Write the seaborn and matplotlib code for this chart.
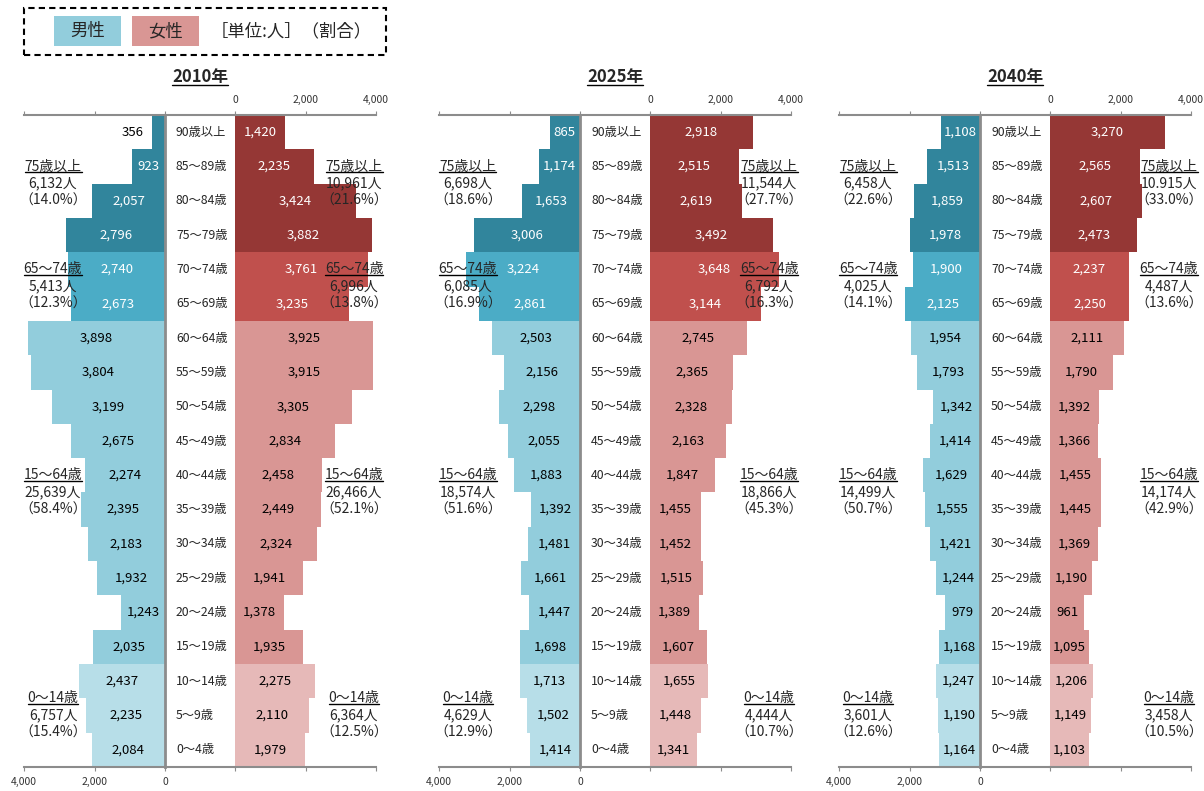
import pandas as pd
import seaborn as sns
import matplotlib.pyplot as plt
from matplotlib.lines import Line2D
from matplotlib.patches import Rectangle

W, H = 1204, 791

# ——— data ———
ages = ['90歳以上', '85～89歳', '80～84歳', '75～79歳', '70～74歳', '65～69歳',
        '60～64歳', '55～59歳', '50～54歳', '45～49歳', '40～44歳', '35～39歳',
        '30～34歳', '25～29歳', '20～24歳', '15～19歳', '10～14歳', '5～9歳', '0～4歳']
years = ['2010年', '2025年', '2040年']

male_2010 = [356, 923, 2057, 2796, 2740, 2673, 3898, 3804, 3199, 2675,
             2274, 2395, 2183, 1932, 1243, 2035, 2437, 2235, 2084]
female_2010 = [1420, 2235, 3424, 3882, 3761, 3235, 3925, 3915, 3305, 2834,
               2458, 2449, 2324, 1941, 1378, 1935, 2275, 2110, 1979]
male_2025 = [865, 1174, 1653, 3006, 3224, 2861, 2503, 2156, 2298, 2055,
             1883, 1392, 1481, 1661, 1447, 1698, 1713, 1502, 1414]
female_2025 = [2918, 2515, 2619, 3492, 3648, 3144, 2745, 2365, 2328, 2163,
               1847, 1455, 1452, 1515, 1389, 1607, 1655, 1448, 1341]
male_2040 = [1108, 1513, 1859, 1978, 1900, 2125, 1954, 1793, 1342, 1414,
             1629, 1555, 1421, 1244, 979, 1168, 1247, 1190, 1164]
female_2040 = [3270, 2565, 2607, 2473, 2237, 2250, 2111, 1790, 1392, 1366,
               1455, 1445, 1369, 1190, 961, 1095, 1206, 1149, 1103]

group_names = ['75歳以上', '65～74歳', '15～64歳', '0～14歳']
group_of_row = [0] * 4 + [1] * 2 + [2] * 10 + [3] * 3

male_sum_2010 = ['6,132人', '5,413人', '25,639人', '6,757人']
male_pct_2010 = ['（14.0%）', '（12.3%）', '（58.4%）', '（15.4%）']
female_sum_2010 = ['10,961人', '6,996人', '26,466人', '6,364人']
female_pct_2010 = ['（21.6%）', '（13.8%）', '（52.1%）', '（12.5%）']
male_sum_2025 = ['6,698人', '6,085人', '18,574人', '4,629人']
male_pct_2025 = ['（18.6%）', '（16.9%）', '（51.6%）', '（12.9%）']
female_sum_2025 = ['11,544人', '6,792人', '18,866人', '4,444人']
female_pct_2025 = ['（27.7%）', '（16.3%）', '（45.3%）', '（10.7%）']
male_sum_2040 = ['6,458人', '4,025人', '14,499人', '3,601人']
male_pct_2040 = ['（22.6%）', '（14.1%）', '（50.7%）', '（12.6%）']
female_sum_2040 = ['10.915人', '4,487人', '14,174人', '3,458人']
female_pct_2040 = ['（33.0%）', '（13.6%）', '（42.9%）', '（10.5%）']

male_colors = ['#31859C', '#4BACC6', '#92CDDC', '#B7DEE8']
female_colors = ['#953735', '#C0504D', '#D99694', '#E6B9B8']

panels = [
    (male_2010, female_2010, male_sum_2010, male_pct_2010, female_sum_2010, female_pct_2010),
    (male_2025, female_2025, male_sum_2025, male_pct_2025, female_sum_2025, female_pct_2025),
    (male_2040, female_2040, male_sum_2040, male_pct_2040, female_sum_2040, female_pct_2040),
]

# ——— style ———
sns.set_style("white")
plt.rcParams['font.family'] = ['Noto Sans CJK JP', 'DejaVu Sans']

fig = plt.figure(figsize=(W / 100, H / 100), dpi=100)


def rect(x0, x1, y0, y1):
    return [x0 / W, 1 - y1 / H, (x1 - x0) / W, (y1 - y0) / H]


AX_TOP, AX_BOT = 115, 767
MW, GAP = 141, 70
lefts = [24, 439, 839]
group_rows = [1, 4, 10, 16.5]
spine_c = '#8C8C8C'
underline = []


def style_axis(ax, label_top):
    for s in ax.spines.values():
        s.set_visible(False)
    for s in ('top', 'bottom'):
        ax.spines[s].set_visible(True)
        ax.spines[s].set_color(spine_c)
        ax.spines[s].set_linewidth(1.5)
    ax.set_xticks([0, 2000, 4000])
    ax.set_xticklabels(['0', '2,000', '4,000'])
    ax.tick_params(axis='x', top=True, bottom=True, labeltop=label_top,
                   labelbottom=not label_top, length=3, color=spine_c,
                   labelsize=7.5, labelcolor='#333333', pad=4)
    ax.set_yticks([])
    ax.set_xlabel('')
    ax.set_ylabel('')
    ax.set_ylim(18.5, -0.5)
    ax.set_facecolor('none')


for p, (left, year, data) in enumerate(zip(lefts, years, panels)):
    males, females, msum, mpct, fsum, fpct = data
    df = pd.DataFrame({'age': ages, 'male': males, 'female': females})
    mright = left + MW
    fleft = mright + GAP

    ax_m = fig.add_axes(rect(left, mright, AX_TOP, AX_BOT))
    ax_c = fig.add_axes(rect(mright, fleft, AX_TOP, AX_BOT))
    ax_f = fig.add_axes(rect(fleft, fleft + MW, AX_TOP, AX_BOT))

    sns.barplot(data=df, x='male', y='age', hue='age', orient='h', width=1.0,
                palette=dict(zip(ages, [male_colors[g] for g in group_of_row])),
                saturation=1, legend=False, linewidth=0, ax=ax_m)
    sns.barplot(data=df, x='female', y='age', hue='age', orient='h', width=1.0,
                palette=dict(zip(ages, [female_colors[g] for g in group_of_row])),
                saturation=1, legend=False, linewidth=0, ax=ax_f)

    style_axis(ax_m, False)
    style_axis(ax_f, True)
    ax_m.set_xlim(4000, 0)
    ax_f.set_xlim(0, 4000)
    ax_m.spines['right'].set_visible(True)
    ax_m.spines['right'].set_color(spine_c)
    ax_m.spines['right'].set_linewidth(2)

    for s in ax_c.spines.values():
        s.set_visible(False)
    for s in ('top', 'bottom'):
        ax_c.spines[s].set_visible(True)
        ax_c.spines[s].set_color(spine_c)
        ax_c.spines[s].set_linewidth(1.5)
    ax_c.set_xticks([])
    ax_c.set_yticks([])
    ax_c.set_xlim(0, 1)
    ax_c.set_ylim(18.5, -0.5)
    ax_c.set_facecolor('none')

    for i, age in enumerate(ages):
        ax_c.text(11 / GAP, i, age, ha='left', va='center', fontsize=8.8)
        light = group_of_row[i] >= 2
        mv, fv = males[i], females[i]
        if mv < 500:
            ax_m.text(mv + 250, i, f'{mv:,}', ha='right', va='center', fontsize=9.5,
                      color='black')
        else:
            ax_m.text(mv / 2, i, f'{mv:,}', ha='center', va='center', fontsize=9.5,
                      color='black' if light else 'white')
        ax_f.text(fv / 2, i, f'{fv:,}', ha='center', va='center', fontsize=9.5,
                  color='black' if light else 'white')

    # group summaries
    for g, row in enumerate(group_rows):
        for ax, xf, s, pc in ((ax_m, 29 / MW, msum, mpct), (ax_f, 1 - 22 / MW, fsum, fpct)):
            tr = ax.get_yaxis_transform()
            t = ax.text(xf, row, group_names[g], transform=tr, ha='center', va='center',
                        fontsize=10, zorder=10, clip_on=False)
            underline.append(t)
            ax.text(xf, row + 0.5, s[g], transform=tr, ha='center', va='center',
                    fontsize=10, zorder=10, clip_on=False)
            ax.text(xf, row + 1.0, pc[g], transform=tr, ha='center', va='center',
                    fontsize=10, zorder=10, clip_on=False)

    t = fig.text((left + MW + GAP / 2) / W, 1 - 77 / H, year, ha='center', va='center',
                 fontsize=12, fontweight='bold')
    underline.append(t)

# ——— legend box ———
fig.add_artist(Rectangle((24 / W, 1 - 55 / H), 362 / W, 47 / H, transform=fig.transFigure,
                         fill=False, edgecolor='black', linewidth=1.5,
                         linestyle=(0, (3, 2))))
fig.add_artist(Rectangle((54 / W, 1 - 46 / H), 67 / W, 30 / H, transform=fig.transFigure,
                         facecolor=male_colors[2], edgecolor='none'))
fig.add_artist(Rectangle((132 / W, 1 - 46 / H), 67 / W, 30 / H, transform=fig.transFigure,
                         facecolor=female_colors[2], edgecolor='none'))
fig.text(88 / W, 1 - 31 / H, '男性', ha='center', va='center', fontsize=12.5)
fig.text(166 / W, 1 - 31 / H, '女性', ha='center', va='center', fontsize=12.5)
fig.text(211 / W, 1 - 31 / H, '［単位:人］（割合）', ha='left', va='center', fontsize=12.5)

# underline headings
fig.canvas.draw()
renderer = fig.canvas.get_renderer()
for t in underline:
    bb = t.get_window_extent(renderer)
    y = (bb.y0 + 1) / H
    fig.add_artist(Line2D([bb.x0 / W, bb.x1 / W], [y, y], transform=fig.transFigure,
                          color='black', linewidth=1, zorder=11))

fig.savefig('out.png', dpi=100)
